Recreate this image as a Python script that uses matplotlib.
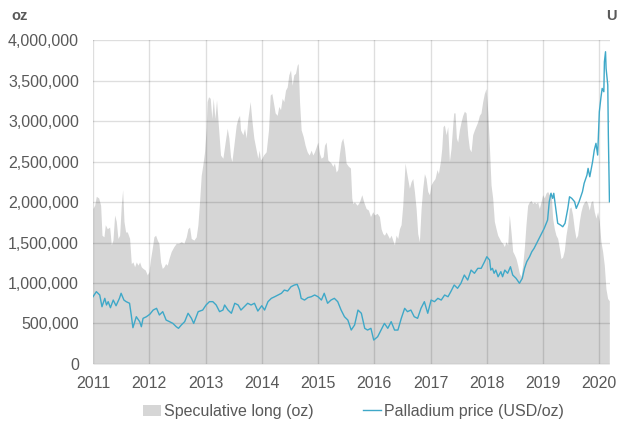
import matplotlib
matplotlib.use("Agg")
import matplotlib.pyplot as plt
from matplotlib.patches import Patch
from matplotlib.lines import Line2D
from matplotlib.ticker import FuncFormatter

plt.rcParams["font.family"] = ["Liberation Sans", "DejaVu Sans"]

# Speculative long positions (oz), x in decimal years
spec_year = [
    2011.000, 2011.030, 2011.059, 2011.101, 2011.136, 2011.160, 2011.195, 2011.219, 2011.254, 2011.296,
    2011.326, 2011.355, 2011.385, 2011.414, 2011.444, 2011.474, 2011.503, 2011.527, 2011.551, 2011.580,
    2011.610, 2011.651, 2011.681, 2011.710, 2011.740, 2011.770, 2011.799, 2011.829, 2011.858, 2011.888,
    2011.929, 2011.965, 2011.995, 2012.024, 2012.054, 2012.083, 2012.113, 2012.143, 2012.172, 2012.202,
    2012.232, 2012.261, 2012.291, 2012.320, 2012.350, 2012.391, 2012.439, 2012.480, 2012.522, 2012.569,
    2012.616, 2012.658, 2012.687, 2012.717, 2012.746, 2012.794, 2012.835, 2012.865, 2012.894, 2012.924,
    2012.953, 2012.983, 2013.013, 2013.030, 2013.054, 2013.084, 2013.113, 2013.137, 2013.167, 2013.196,
    2013.232, 2013.267, 2013.309, 2013.350, 2013.386, 2013.415, 2013.445, 2013.469, 2013.504, 2013.546,
    2013.575, 2013.605, 2013.623, 2013.664, 2013.694, 2013.723, 2013.753, 2013.794, 2013.824, 2013.859,
    2013.901, 2013.930, 2013.954, 2013.978, 2014.002, 2014.031, 2014.078, 2014.120, 2014.150, 2014.179,
    2014.209, 2014.238, 2014.274, 2014.303, 2014.333, 2014.363, 2014.392, 2014.422, 2014.452, 2014.481,
    2014.511, 2014.540, 2014.570, 2014.600, 2014.629, 2014.647, 2014.671, 2014.700, 2014.736, 2014.771,
    2014.807, 2014.842, 2014.878, 2014.907, 2014.937, 2014.967, 2014.996, 2015.026, 2015.055, 2015.091,
    2015.115, 2015.144, 2015.174, 2015.203, 2015.233, 2015.263, 2015.292, 2015.322, 2015.351, 2015.381,
    2015.411, 2015.440, 2015.470, 2015.499, 2015.541, 2015.576, 2015.600, 2015.618, 2015.647, 2015.695,
    2015.736, 2015.778, 2015.813, 2015.855, 2015.896, 2015.932, 2015.973, 2016.003, 2016.050, 2016.091,
    2016.121, 2016.151, 2016.180, 2016.210, 2016.240, 2016.269, 2016.299, 2016.328, 2016.358, 2016.387,
    2016.417, 2016.447, 2016.476, 2016.506, 2016.547, 2016.583, 2016.624, 2016.654, 2016.684, 2016.713,
    2016.743, 2016.772, 2016.802, 2016.832, 2016.861, 2016.891, 2016.920, 2016.950, 2016.980, 2017.009,
    2017.039, 2017.080, 2017.116, 2017.139, 2017.175, 2017.199, 2017.222, 2017.246, 2017.276, 2017.305,
    2017.335, 2017.364, 2017.394, 2017.412, 2017.435, 2017.459, 2017.483, 2017.512, 2017.542, 2017.572,
    2017.601, 2017.631, 2017.660, 2017.690, 2017.720, 2017.749, 2017.779, 2017.838, 2017.868, 2017.897,
    2017.927, 2017.956, 2017.986, 2018.016, 2018.045, 2018.075, 2018.104, 2018.134, 2018.164, 2018.193,
    2018.223, 2018.252, 2018.282, 2018.312, 2018.341, 2018.371, 2018.400, 2018.430, 2018.460, 2018.489,
    2018.519, 2018.548, 2018.578, 2018.608, 2018.637, 2018.667, 2018.696, 2018.726, 2018.756, 2018.785,
    2018.815, 2018.845, 2018.874, 2018.904, 2018.933, 2018.963, 2018.992, 2019.022, 2019.052, 2019.081,
    2019.111, 2019.141, 2019.170, 2019.200, 2019.229, 2019.259, 2019.289, 2019.318, 2019.348, 2019.377,
    2019.407, 2019.437, 2019.466, 2019.496, 2019.525, 2019.555, 2019.585, 2019.614, 2019.644, 2019.673,
    2019.703, 2019.733, 2019.762, 2019.792, 2019.821, 2019.851, 2019.881, 2019.910, 2019.940, 2019.969,
    2019.999, 2020.028, 2020.058, 2020.088, 2020.117, 2020.147, 2020.177,
]
spec_long_m = [
    1.92, 1.96, 2.07, 2.05, 1.96, 1.59, 1.57, 1.72, 1.67, 1.69,
    1.47, 1.53, 1.84, 1.76, 1.55, 1.59, 1.96, 2.15, 1.76, 1.63,
    1.63, 1.55, 1.24, 1.26, 1.20, 1.26, 1.22, 1.26, 1.20, 1.18,
    1.16, 1.10, 1.14, 1.30, 1.43, 1.57, 1.59, 1.53, 1.49, 1.26,
    1.18, 1.20, 1.24, 1.22, 1.30, 1.39, 1.45, 1.49, 1.49, 1.51,
    1.49, 1.57, 1.67, 1.69, 1.55, 1.53, 1.57, 1.72, 2.00, 2.33,
    2.46, 2.62, 2.91, 3.24, 3.30, 3.28, 3.03, 3.28, 3.03, 3.26,
    2.91, 2.58, 2.54, 2.74, 2.91, 2.79, 2.56, 2.50, 2.70, 2.95,
    3.03, 3.07, 2.89, 2.83, 2.91, 2.79, 3.03, 3.24, 3.01, 2.79,
    2.64, 2.54, 2.64, 2.52, 2.54, 2.58, 2.62, 2.89, 3.32, 3.34,
    3.22, 3.10, 3.07, 3.18, 3.14, 3.28, 3.24, 3.38, 3.42, 3.57,
    3.63, 3.44, 3.57, 3.59, 3.69, 3.71, 3.24, 2.89, 2.81, 2.70,
    2.62, 2.58, 2.64, 2.58, 2.62, 2.68, 2.74, 2.60, 2.54, 2.56,
    2.70, 2.74, 2.52, 2.50, 2.48, 2.44, 2.48, 2.37, 2.40, 2.60,
    2.74, 2.79, 2.67, 2.48, 2.44, 2.42, 2.05, 1.98, 2.00, 1.96,
    2.00, 2.09, 2.00, 1.92, 1.90, 1.82, 1.88, 1.84, 1.86, 1.82,
    1.67, 1.61, 1.59, 1.63, 1.59, 1.55, 1.59, 1.53, 1.47, 1.59,
    1.55, 1.67, 1.72, 1.96, 2.48, 2.33, 2.17, 2.25, 2.29, 2.13,
    1.92, 1.61, 1.51, 1.92, 2.17, 2.35, 2.29, 2.13, 2.09, 2.21,
    2.25, 2.29, 2.40, 2.35, 2.50, 2.66, 2.93, 2.95, 2.83, 2.93,
    2.50, 2.66, 2.95, 3.10, 3.10, 2.79, 2.74, 2.89, 2.99, 3.07,
    3.12, 3.10, 2.83, 2.66, 2.62, 2.83, 2.89, 2.99, 3.07, 3.10,
    3.24, 3.34, 3.40, 3.12, 2.70, 2.21, 2.05, 1.76, 1.67, 1.59,
    1.55, 1.51, 1.49, 1.45, 1.51, 1.47, 1.84, 1.63, 1.39, 1.35,
    1.30, 1.22, 1.12, 1.08, 1.22, 1.43, 1.72, 1.96, 2.00, 2.02,
    1.98, 2.00, 1.98, 2.00, 1.92, 2.00, 2.09, 2.05, 2.11, 2.13,
    2.09, 2.13, 1.80, 1.67, 1.59, 1.55, 1.43, 1.30, 1.32, 1.40,
    1.59, 1.72, 1.92, 1.94, 1.84, 1.67, 1.55, 1.59, 1.76, 1.88,
    1.96, 2.00, 2.02, 1.98, 1.90, 2.00, 2.02, 1.88, 1.80, 1.88,
    1.76, 1.51, 1.39, 1.22, 0.93, 0.81, 0.78,
]
spec_long = [v * 1e6 for v in spec_long_m]

# Palladium price (USD/oz)
price_year = [
    2011.00, 2011.06, 2011.12, 2011.16, 2011.21, 2011.24, 2011.27, 2011.31, 2011.36, 2011.41,
    2011.47, 2011.50, 2011.55, 2011.59, 2011.65, 2011.68, 2011.71, 2011.77, 2011.83, 2011.86,
    2011.89, 2011.95, 2012.01, 2012.07, 2012.13, 2012.18, 2012.24, 2012.30, 2012.36, 2012.42,
    2012.48, 2012.52, 2012.57, 2012.63, 2012.69, 2012.75, 2012.79, 2012.87, 2012.95, 2013.01,
    2013.07, 2013.13, 2013.19, 2013.25, 2013.31, 2013.34, 2013.40, 2013.46, 2013.52, 2013.58,
    2013.63, 2013.69, 2013.75, 2013.81, 2013.87, 2013.93, 2014.00, 2014.05, 2014.11, 2014.17,
    2014.23, 2014.29, 2014.35, 2014.40, 2014.46, 2014.52, 2014.58, 2014.63, 2014.67, 2014.70,
    2014.76, 2014.82, 2014.88, 2014.94, 2015.00, 2015.06, 2015.11, 2015.17, 2015.23, 2015.29,
    2015.35, 2015.41, 2015.47, 2015.53, 2015.59, 2015.65, 2015.71, 2015.77, 2015.83, 2015.88,
    2015.94, 2015.99, 2016.06, 2016.12, 2016.18, 2016.24, 2016.30, 2016.36, 2016.42, 2016.48,
    2016.54, 2016.59, 2016.65, 2016.71, 2016.77, 2016.83, 2016.89, 2016.95, 2017.01, 2017.07,
    2017.13, 2017.19, 2017.25, 2017.31, 2017.36, 2017.42, 2017.48, 2017.54, 2017.60, 2017.66,
    2017.72, 2017.78, 2017.84, 2017.90, 2017.96, 2018.00, 2018.05, 2018.07, 2018.10, 2018.13,
    2018.16, 2018.20, 2018.25, 2018.28, 2018.32, 2018.37, 2018.42, 2018.46, 2018.52, 2018.58,
    2018.63, 2018.67, 2018.71, 2018.76, 2018.80, 2018.84, 2018.90, 2018.96, 2019.02, 2019.08,
    2019.11, 2019.14, 2019.17, 2019.19, 2019.23, 2019.26, 2019.31, 2019.35, 2019.39, 2019.44,
    2019.47, 2019.51, 2019.56, 2019.59, 2019.64, 2019.70, 2019.73, 2019.78, 2019.80, 2019.83,
    2019.88, 2019.91, 2019.94, 2019.97, 2020.00, 2020.03, 2020.05, 2020.08, 2020.09, 2020.11,
    2020.12, 2020.15, 2020.16, 2020.18,
]
price = [
    818, 859, 832, 737, 805, 751, 778, 729, 791, 745,
    805, 846, 791, 778, 765, 670, 567, 656, 616, 575,
    643, 656, 676, 710, 724, 670, 697, 629, 616, 602,
    575, 562, 589, 616, 684, 643, 602, 697, 710, 751,
    778, 778, 751, 697, 710, 751, 710, 684, 765, 751,
    710, 737, 765, 751, 765, 702, 745, 710, 778, 805,
    818, 832, 846, 872, 864, 899, 913, 918, 872, 805,
    791, 811, 818, 832, 818, 791, 846, 765, 791, 805,
    778, 710, 656, 629, 548, 589, 710, 684, 562, 548,
    562, 467, 494, 548, 602, 562, 616, 548, 548, 643,
    724, 697, 710, 656, 643, 724, 778, 684, 791, 778,
    805, 791, 832, 818, 859, 913, 886, 927, 994, 953,
    1034, 1008, 1048, 1048, 1102, 1142, 1115, 1034, 1048, 1008,
    1034, 980, 1021, 980, 1034, 1008, 1061, 994, 967, 927,
    967, 1048, 1102, 1142, 1183, 1210, 1264, 1318, 1372, 1439,
    1588, 1656, 1615, 1656, 1520, 1413, 1399, 1385, 1413, 1534,
    1628, 1615, 1588, 1534, 1588, 1669, 1737, 1804, 1858, 1790,
    1912, 2006, 2061, 1966, 2317, 2438, 2506, 2479, 2722, 2803,
    2668, 2533, 2128, 1588,
]

text_color = "#595959"
fig = plt.figure(figsize=(6.17, 4.23), dpi=100)
ax = fig.add_axes([0.1507, 0.1395, 0.8380, 0.7659])

ax.fill_between(spec_year, spec_long, 0, color="#d6d6d6", linewidth=0, zorder=1)
ax.set_xlim(2011, 2020.19)
ax.set_ylim(0, 4000000)
ax.set_yticks(range(0, 4000001, 500000))
ax.yaxis.set_major_formatter(FuncFormatter(lambda v, p: f"{int(v):,}"))
ax.set_xticks(range(2011, 2021))
ax.set_axisbelow(False)
ax.grid(True, color="black", alpha=0.13, linewidth=1)
ax.tick_params(length=0, labelsize=11.5, labelcolor=text_color)
ax.tick_params(axis="y", pad=10)
ax.tick_params(axis="x", pad=9)
for s in ax.spines.values():
    s.set_visible(False)

ax2 = ax.twinx()
ax2.plot(price_year, price, color="#3ea8c8", linewidth=1.0)
ax2.set_ylim(273, 2898)
ax2.set_yticks([])
for s in ax2.spines.values():
    s.set_visible(False)

fig.text(0.019, 0.962, "oz", fontsize=10.5, fontweight="bold", color=text_color, va="center")
fig.text(0.983, 0.962, "U", fontsize=10.5, fontweight="bold", color=text_color, va="center")

handles = [Patch(facecolor="#d6d6d6", edgecolor="none"),
           Line2D([0], [0], color="#3ea8c8", linewidth=1.0)]
leg = fig.legend(handles, ["Speculative long (oz)", "Palladium price (USD/oz)"],
                 loc="center", bbox_to_anchor=(0.573, 0.027), ncol=2, frameon=False,
                 fontsize=11.5, handlelength=1.1, handletextpad=0.2, columnspacing=3.1)
for t in leg.get_texts():
    t.set_color(text_color)

fig.savefig("out.png", dpi=100)
